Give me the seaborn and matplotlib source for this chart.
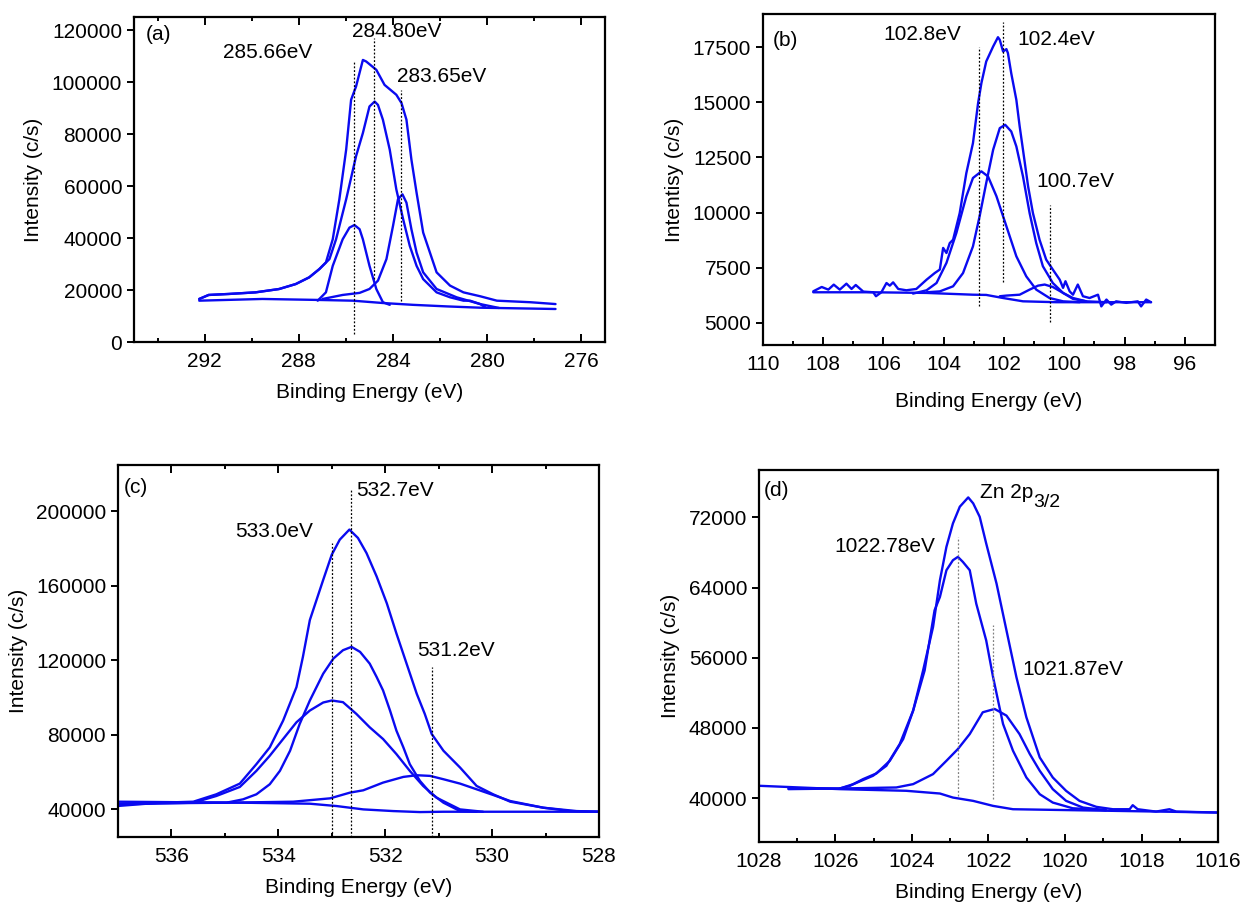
import matplotlib
matplotlib.use("Agg")
import matplotlib.pyplot as plt
import seaborn as sns
from matplotlib.ticker import MultipleLocator

# ---------------- panel (a) C 1s ----------------
a_env_x = [292.23, 291.83, 290.98, 289.84, 288.84, 288.13, 287.56, 287.13, 286.85, 286.56, 286.28,
           285.99, 285.78, 285.57, 285.28, 285.14, 284.71, 284.36, 283.86, 283.64, 283.43, 283.22,
           283.0, 282.72, 282.15, 281.58, 281.01, 280.30, 279.59, 278.16, 277.1]
a_env_y = [16560, 18100, 18480, 19100, 20380, 22300, 24870, 28040, 30600, 39530, 54860,
           74000, 93200, 98300, 108500, 107900, 104700, 98900, 95100, 91900, 85500, 70200,
           57400, 42100, 26800, 21700, 19100, 17600, 15900, 15300, 14600]
a_c2_x = [292.23, 291.83, 290.98, 289.84, 288.84, 288.13, 287.56, 287.13, 286.7, 286.42, 285.99,
          285.57, 285.28, 285.0, 284.78, 284.64, 284.43, 284.14, 283.86, 283.57, 283.29, 283.0,
          282.72, 282.15, 281.58, 281.01, 280.73, 280.30, 280.09]
a_c2_y = [16560, 18100, 18480, 19100, 20380, 22300, 24870, 28040, 31900, 39500, 54900,
          71500, 80400, 90600, 92500, 91200, 85500, 74000, 58700, 47200, 37000, 29300,
          24200, 19100, 17200, 15900, 15900, 14600, 13400]
a_c1_x = [287.2, 286.85, 286.56, 286.14, 285.85, 285.64, 285.42, 285.28, 285.0, 284.71, 284.43, 284.14]
a_c1_y = [15900, 19100, 29300, 39500, 44000, 45000, 43400, 39500, 29300, 20400, 15300, 14300]
a_c3_x = [286.99, 286.14, 285.42, 285.0, 284.64, 284.28, 284.0, 283.79, 283.60, 283.43, 283.22,
          283.0, 282.72, 282.15, 281.30, 280.30, 279.5]
a_c3_y = [16560, 18100, 18900, 20400, 23600, 31900, 44700, 54900, 56800, 53600, 43400,
          34400, 26800, 20400, 17200, 14600, 13100]
a_bg_x = [292.23, 289.55, 287.27, 285.71, 284.43, 283.15, 281.72, 280.30, 277.1]
a_bg_y = [15900, 16560, 16200, 15900, 15000, 14300, 13700, 13200, 12700]
a_peaks = ["285.66eV", "284.80eV", "283.65eV"]
a_drop_x = [285.66, 284.80, 283.65]
a_drop_top = [108000, 116800, 97000]
a_drop_bot = [3100, 24200, 15900]

# ---------------- panel (b) Si 2p ----------------
b_env_x = [108.33, 108.05, 107.83, 107.65, 107.45, 107.23, 107.06, 106.92, 106.67, 106.34, 106.25,
           106.07, 105.9, 105.79, 105.68, 105.51, 105.24, 104.91, 104.57, 104.3, 104.13, 104.02,
           103.91, 103.8, 103.69, 103.47, 103.25, 103.03, 102.86, 102.75, 102.59, 102.36, 102.2,
           102.14, 102.03, 101.92, 101.87, 101.76, 101.59, 101.48, 101.37, 101.2, 101.04, 100.82,
           100.6, 100.38, 100.15, 100.04, 99.96, 99.82, 99.71, 99.55, 99.38, 99.16, 98.88, 98.77,
           98.6, 98.44, 98.28, 97.94, 97.56, 97.45, 97.28, 97.12]
b_env_y = [6434, 6630, 6510, 6736, 6510, 6780, 6540, 6720, 6420, 6390, 6210,
           6390, 6810, 6690, 6840, 6540, 6480, 6540, 6960, 7260, 7420, 8400,
           8170, 8620, 8770, 9980, 11790, 13150, 14960, 15870, 16850, 17530, 17950,
           17830, 17300, 17410, 17230, 16320, 15110, 13910, 12850, 11190, 9980, 8770,
           7870, 7420, 6960, 6590, 6890, 6430, 6280, 6740, 6210, 6130, 6280, 5750,
           6060, 5830, 5980, 5910, 5980, 5750, 6060, 5940]
b_c1_x = [104.57, 104.13, 103.69, 103.36, 103.03, 102.81, 102.59, 102.36, 102.14, 101.96, 101.76,
          101.59, 101.37, 101.15, 100.93, 100.71, 100.38, 100.04, 99.71, 99.27, 98.6]
b_c1_y = [6390, 6430, 6660, 7260, 8470, 9830, 11340, 12850, 13830, 13980, 13680,
          13000, 11640, 9980, 8620, 7570, 6810, 6360, 6130, 5980, 5940]
b_c2_x = [105.02, 104.57, 104.24, 103.91, 103.58, 103.25, 103.03, 102.75, 102.53, 102.25, 101.92,
          101.59, 101.26, 100.93, 100.49, 100.04, 99.49]
b_c2_y = [6330, 6480, 6810, 7720, 9080, 10740, 11570, 11870, 11640, 10740, 9380,
          8020, 7110, 6510, 6130, 5980, 5940]
b_c3_x = [102.14, 101.92, 101.48, 101.15, 100.87, 100.65, 100.38, 100.04, 99.71, 99.27]
b_c3_y = [6210, 6240, 6280, 6510, 6690, 6740, 6630, 6360, 6090, 5980]
b_bg_x = [108.33, 106.34, 104.57, 103.03, 102.59, 102.03, 101.37, 100.27, 99.16, 97.12]
b_bg_y = [6390, 6390, 6360, 6280, 6270, 6130, 5980, 5940, 5940, 5940]
b_peaks = ["102.8eV", "102.4eV", "100.7eV"]
b_drop_x = [102.84, 102.03, 100.46]
b_drop_top = [17500, 18620, 10360]
b_drop_bot = [5750, 6840, 5030]

# ---------------- panel (c) O 1s ----------------
c_env_x = [537.02, 536.22, 535.59, 535.16, 534.72, 534.41, 534.16, 533.91, 533.66, 533.54, 533.41,
           533.16, 533.0, 532.85, 532.67, 532.51, 532.35, 532.16, 531.97, 531.79, 531.60, 531.41,
           531.26, 531.13, 530.91, 530.60, 530.29, 529.98, 529.66, 529.04, 528.54, 527.99]
c_env_y = [41620, 43420, 43960, 47930, 53690, 64140, 73150, 87560, 105580, 121790, 141610,
           163230, 176750, 184850, 190260, 185760, 177650, 165030, 150620, 134410, 118190, 101980,
           91170, 80360, 71350, 62340, 52430, 47930, 43960, 40720, 38920, 38560]
c_c1_x = [535.59, 534.97, 534.66, 534.41, 534.16, 533.97, 533.78, 533.60, 533.41, 533.16, 532.97,
          532.79, 532.63, 532.47, 532.29, 532.16, 532.04, 531.91, 531.79, 531.66, 531.54, 531.35,
          531.16, 530.91, 530.60, 530.29]
c_c1_y = [43420, 43420, 45230, 47930, 53330, 60540, 71350, 85760, 98370, 112790, 120900,
          125400, 127200, 124500, 118190, 110980, 103780, 92970, 82160, 73150, 64140, 55130,
          48830, 43420, 38920, 38560]
c_c2_x = [537.02, 535.59, 535.16, 534.72, 534.41, 534.16, 533.91, 533.66, 533.41, 533.16, 533.0,
          532.79, 532.54, 532.29, 532.04, 531.79, 531.54, 531.29, 531.04, 530.60, 530.17]
c_c2_y = [42520, 43420, 47030, 51890, 60540, 68650, 77660, 86670, 92970, 97290, 98370,
          97470, 91170, 83960, 77660, 69550, 60540, 52430, 46120, 39820, 38560]
c_c3_x = [537.02, 534.97, 533.72, 533.03, 532.66, 532.41, 532.04, 531.66, 531.41, 531.16, 530.91,
          530.60, 530.29, 529.98, 529.66, 529.04, 528.42, 527.99]
c_c3_y = [42880, 43420, 43960, 45770, 48830, 50090, 54230, 57290, 58190, 57830, 56030,
          53690, 50630, 47570, 44320, 40720, 38920, 38560]
c_bg_x = [537.02, 534.66, 533.41, 532.91, 532.41, 531.85, 531.35, 530.91, 527.99]
c_bg_y = [43960, 43420, 42880, 41620, 39820, 38920, 38380, 38560, 38560]
c_peaks = ["533.0eV", "532.7eV", "531.2eV"]
c_drop_x = [533.0, 532.64, 531.13]
c_drop_top = [183070, 211880, 116390]
c_drop_bot = [25000, 25000, 25000]

# ---------------- panel (d) Zn 2p3/2 ----------------
d_env_x = [1027.23, 1025.89, 1025.62, 1025.28, 1024.93, 1024.58, 1024.23, 1023.97, 1023.71, 1023.45,
           1023.27, 1023.10, 1022.93, 1022.75, 1022.53, 1022.40, 1022.23, 1022.06, 1021.79, 1021.53,
           1021.27, 1021.01, 1020.66, 1020.32, 1019.97, 1019.62, 1019.18, 1018.75, 1018.31, 1018.23,
           1018.10, 1017.62, 1017.27, 1017.09, 1015.98]
d_env_y = [41140, 41100, 41410, 42170, 42820, 44260, 46740, 49980, 54550, 59500,
           64830, 68640, 71310, 73220, 74280, 73600, 72070, 69030, 64460, 59120,
           53790, 49220, 44640, 42360, 40830, 39690, 39010, 38740, 38740, 39200,
           38740, 38470, 38740, 38470, 38360]
d_c1_x = [1027.23, 1025.89, 1025.53, 1025.02, 1024.67, 1024.32, 1023.97, 1023.67, 1023.41, 1023.27,
          1023.10, 1022.93, 1022.80, 1022.67, 1022.49, 1022.32, 1022.06, 1021.88, 1021.62, 1021.36,
          1021.01, 1020.66, 1020.32, 1019.80, 1018.93]
d_c1_y = [41030, 41100, 41600, 42550, 43690, 46170, 49980, 54550, 61410, 62930,
          65980, 67120, 67500, 66930, 65980, 62170, 57980, 53790, 48460, 45410,
          42360, 40450, 39500, 38850, 38630]
d_c2_x = [1025.89, 1024.41, 1023.97, 1023.45, 1023.10, 1022.80, 1022.49, 1022.15, 1021.84, 1021.53,
          1021.19, 1020.92, 1020.66, 1020.32, 1019.97, 1019.53, 1018.93]
d_c2_y = [41100, 41220, 41600, 42740, 44260, 45600, 47310, 49790, 50170, 49410,
          47310, 45030, 43120, 41030, 39690, 38930, 38630]
d_bg_x = [1027.99, 1025.89, 1024.15, 1023.27, 1022.93, 1022.40, 1021.88, 1021.36, 1019.80, 1015.98]
d_bg_y = [41410, 41030, 40840, 40530, 40070, 39690, 39120, 38740, 38630, 38360]
d_peaks = ["1022.78eV", "1021.87eV"]
d_drop_x = [1022.80, 1021.88]
d_drop_top = [69790, 59690]
d_drop_bot = [40260, 39880]

BLUE = "#0a0af0"
FS = 15

sns.set_style("ticks")
plt.rcParams['font.family'] = ['Liberation Sans', 'DejaVu Sans']
plt.rcParams['font.size'] = FS
for key in ['text.color', 'axes.labelcolor', 'xtick.color', 'ytick.color', 'axes.edgecolor']:
    plt.rcParams[key] = 'black'

fig = plt.figure(figsize=(12.43, 9.06), dpi=100)


def make_axes(rect, xlim, ylim, xmaj, ymaj, ylab, top_ticks, pad_x=9):
    ax = fig.add_axes(rect)
    ax.set_xlim(*xlim)
    ax.set_ylim(*ylim)
    ax.xaxis.set_major_locator(MultipleLocator(xmaj))
    ax.xaxis.set_minor_locator(MultipleLocator(xmaj / 2))
    ax.yaxis.set_major_locator(MultipleLocator(ymaj))
    for s in ax.spines.values():
        s.set_linewidth(1.6)
    ax.tick_params(axis='x', which='both', direction='in', top=top_ticks, width=1.4,
                   pad=7, labelsize=FS)
    ax.tick_params(axis='x', which='major', length=6)
    ax.tick_params(axis='x', which='minor', length=3)
    ax.tick_params(axis='y', which='major', direction='out', length=5, width=1.4, labelsize=FS)
    ax.set_xlabel("Binding Energy (eV)", fontsize=FS, labelpad=pad_x)
    ax.set_ylabel(ylab, fontsize=FS, labelpad=6)
    return ax


def curve(ax, xs, ys):
    sns.lineplot(x=xs, y=ys, sort=False, estimator=None, color=BLUE, lw=1.7, ax=ax, legend=False)


def drops(ax, xs, tops, bots, color="black"):
    for x, t, b in zip(xs, tops, bots):
        ax.plot([x, x], [b, t], ls=(0, (1.5, 1.5)), color=color, lw=0.9)


# (a)
ax = make_axes([0.1078, 0.6225, 0.3789, 0.3587], (295, 275), (0, 125000), 4, 20000,
               "Intensity (c/s)", True)
for xs, ys in [(a_env_x, a_env_y), (a_c2_x, a_c2_y), (a_c1_x, a_c1_y), (a_c3_x, a_c3_y), (a_bg_x, a_bg_y)]:
    curve(ax, xs, ys)
drops(ax, a_drop_x, a_drop_top, a_drop_bot)
ax.text(291.2, 111400, a_peaks[0], ha='left', va='center', fontsize=FS)
ax.text(285.74, 119300, a_peaks[1], ha='left', va='center', fontsize=FS)
ax.text(283.83, 102100, a_peaks[2], ha='left', va='center', fontsize=FS)
ax.text(0.025, 0.945, "(a)", transform=ax.transAxes, ha='left', va='center', fontsize=FS)

# (b)
ax = make_axes([0.6138, 0.6192, 0.3636, 0.3653], (110, 95), (4000, 19000), 2, 2500,
               "Intentisy (c/s)", False, pad_x=13)
for xs, ys in [(b_env_x, b_env_y), (b_c1_x, b_c1_y), (b_c2_x, b_c2_y), (b_c3_x, b_c3_y), (b_bg_x, b_bg_y)]:
    curve(ax, xs, ys)
drops(ax, b_drop_x, b_drop_top, b_drop_bot)
ax.text(105.99, 18060, b_peaks[0], ha='left', va='center', fontsize=FS)
ax.text(101.57, 17830, b_peaks[1], ha='left', va='center', fontsize=FS)
ax.text(100.93, 11420, b_peaks[2], ha='left', va='center', fontsize=FS)
ax.text(0.021, 0.92, "(b)", transform=ax.transAxes, ha='left', va='center', fontsize=FS)

# (c)
ax = make_axes([0.0949, 0.0762, 0.3870, 0.4106], (537, 528), (25000, 225000), 2, 40000,
               "Intensity (c/s)", True)
for xs, ys in [(c_env_x, c_env_y), (c_c1_x, c_c1_y), (c_c2_x, c_c2_y), (c_c3_x, c_c3_y), (c_bg_x, c_bg_y)]:
    curve(ax, xs, ys)
drops(ax, c_drop_x, c_drop_top, c_drop_bot)
ax.text(534.81, 189360, c_peaks[0], ha='left', va='center', fontsize=FS)
ax.text(532.55, 211520, c_peaks[1], ha='left', va='center', fontsize=FS)
ax.text(531.40, 125000, c_peaks[2], ha='left', va='center', fontsize=FS)
ax.text(0.011, 0.94, "(c)", transform=ax.transAxes, ha='left', va='center', fontsize=FS)

# (d)
ax = make_axes([0.6106, 0.0706, 0.3693, 0.4106], (1028, 1016), (35000, 77400), 2, 8000,
               "Intensity (c/s)", False)
for xs, ys in [(d_env_x, d_env_y), (d_c1_x, d_c1_y), (d_c2_x, d_c2_y), (d_bg_x, d_bg_y)]:
    curve(ax, xs, ys)
drops(ax, d_drop_x, d_drop_top, d_drop_bot, color="gray")
ax.text(1026.02, 68720, d_peaks[0], ha='left', va='center', fontsize=FS)
ax.text(1021.11, 54630, d_peaks[1], ha='left', va='center', fontsize=FS)
zn = ax.text(1022.21, 74820, "Zn 2p", ha='left', va='center', fontsize=FS)
ax.annotate("3/2", xy=(1.0, 0.0), xycoords=zn, ha='left', va='center', fontsize=FS - 1)
ax.text(0.011, 0.946, "(d)", transform=ax.transAxes, ha='left', va='center', fontsize=FS)

fig.savefig("out.png", dpi=100)
